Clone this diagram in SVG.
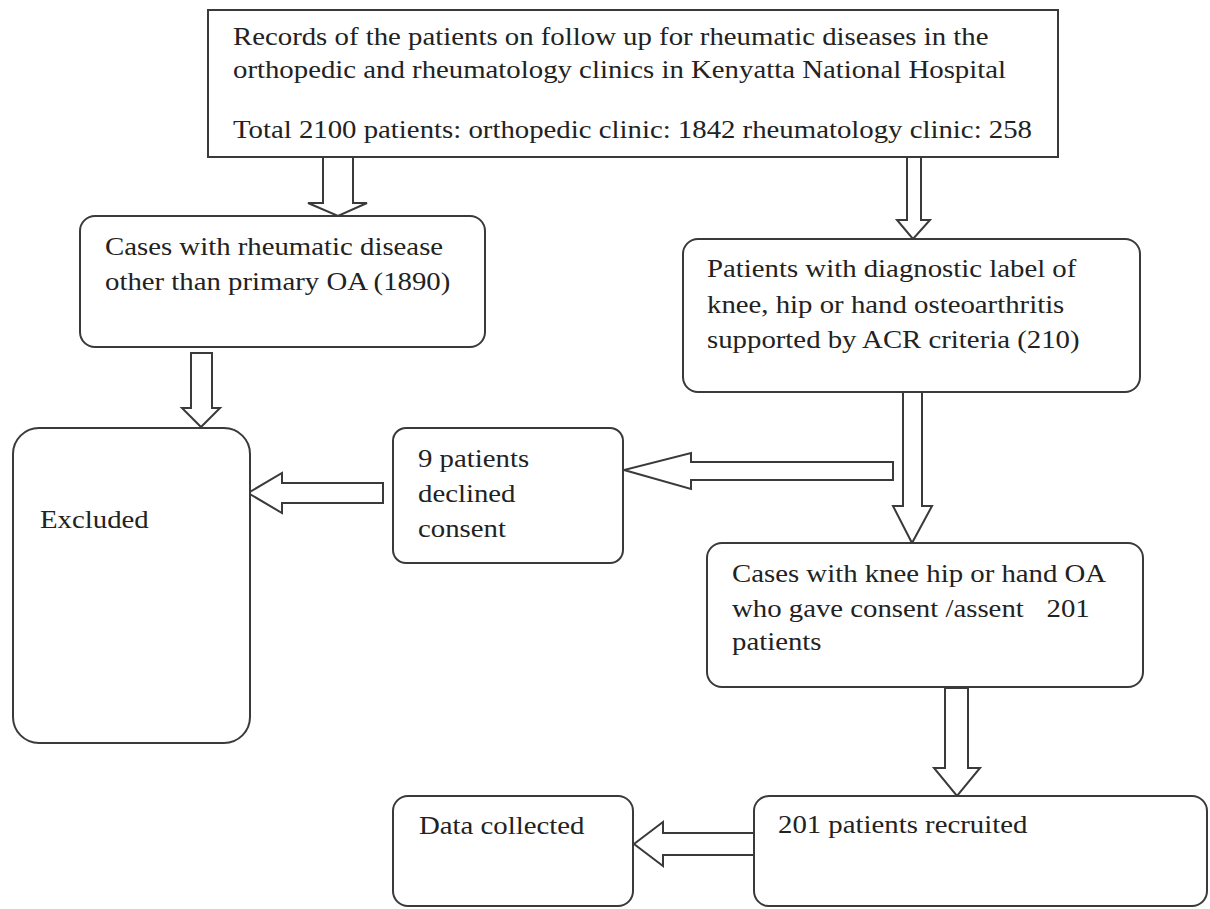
<svg xmlns="http://www.w3.org/2000/svg" width="1210" height="909" viewBox="0 0 1210 909">
<style>
.box{fill:#fff;stroke:#3a3a3a;stroke-width:2}
.arr{fill:#fff;stroke:#3a3a3a;stroke-width:2;stroke-linejoin:miter}
.t{font-family:"Liberation Serif","Times New Roman",serif;font-size:25px;fill:#222}
</style>
<rect width="1210" height="909" fill="#fff"/>
<g id="connectors">
<polygon class="arr" points="323,157 353,157 353,203 367,203 338,216 308,203 323,203"/>
<polygon class="arr" points="907,157 921,157 921,220 930,220 913,239 897,220 907,220"/>
<polygon class="arr" points="191,353 212,353 212,408 220,408 201,427 182,408 191,408"/>
<polygon class="arr" points="383,483 383,503 282,503 282,513 248,493 282,473 282,483"/>
<polygon class="arr" points="893,462 893,480 691,480 691,489 624,470 691,453 691,462"/>
<polygon class="arr" points="903,392 922,392 922,506 932,506 912,543 893,506 903,506"/>
<polygon class="arr" points="945,688 968,688 968,768 980,768 957,796 934,768 945,768"/>
<polygon class="arr" points="755,833 755,855 663,855 663,866 634,844 663,822 663,833"/>
</g>
<g id="records">
<rect class="box" x="208" y="10" width="850" height="147"/>
<text class="t" transform="translate(233,45) scale(1.152,1)"><tspan x="0" y="0">Records of the patients on follow up for rheumatic diseases in the</tspan><tspan x="0" y="33">orthopedic and rheumatology clinics in Kenyatta National Hospital</tspan><tspan x="0" y="93">Total 2100 patients:  orthopedic clinic: 1842 rheumatology clinic: 258</tspan></text>
</g>
<g id="other-disease">
<rect class="box" x="80" y="216" width="405" height="131" rx="15"/>
<text class="t" transform="translate(105,255) scale(1.152,1)"><tspan x="0" y="0">Cases with rheumatic disease</tspan><tspan x="0" y="35">other than primary OA (1890)</tspan></text>
</g>
<g id="diagnostic">
<rect class="box" x="683" y="239" width="457" height="153" rx="15"/>
<text class="t" transform="translate(707,277) scale(1.152,1)"><tspan x="0" y="0">Patients with diagnostic label of</tspan><tspan x="0" y="36">knee, hip or hand osteoarthritis</tspan><tspan x="0" y="71">supported by ACR criteria (210)</tspan></text>
</g>
<g id="excluded">
<rect class="box" x="13" y="428" width="237" height="315" rx="26"/>
<text class="t" transform="translate(40,528) scale(1.152,1)">Excluded</text>
</g>
<g id="declined">
<rect class="box" x="393" y="428" width="230" height="135" rx="13"/>
<text class="t" transform="translate(418,467) scale(1.152,1)"><tspan x="0" y="0">9 patients</tspan><tspan x="0" y="35">declined</tspan><tspan x="0" y="70">consent</tspan></text>
</g>
<g id="consent">
<rect class="box" x="707" y="543" width="436" height="144" rx="15"/>
<text class="t" transform="translate(732,582) scale(1.152,1)"><tspan x="0" y="0">Cases with knee hip or hand OA</tspan><tspan x="0" y="35">who gave consent /assent</tspan><tspan x="273" y="35">201</tspan><tspan x="0" y="68">patients</tspan></text>
</g>
<g id="recruited">
<rect class="box" x="754" y="796" width="453" height="110" rx="15"/>
<text class="t" transform="translate(778,833) scale(1.152,1)">201 patients recruited</text>
</g>
<g id="data">
<rect class="box" x="393" y="796" width="240" height="110" rx="15"/>
<text class="t" transform="translate(419,834) scale(1.152,1)">Data collected</text>
</g>
</svg>
